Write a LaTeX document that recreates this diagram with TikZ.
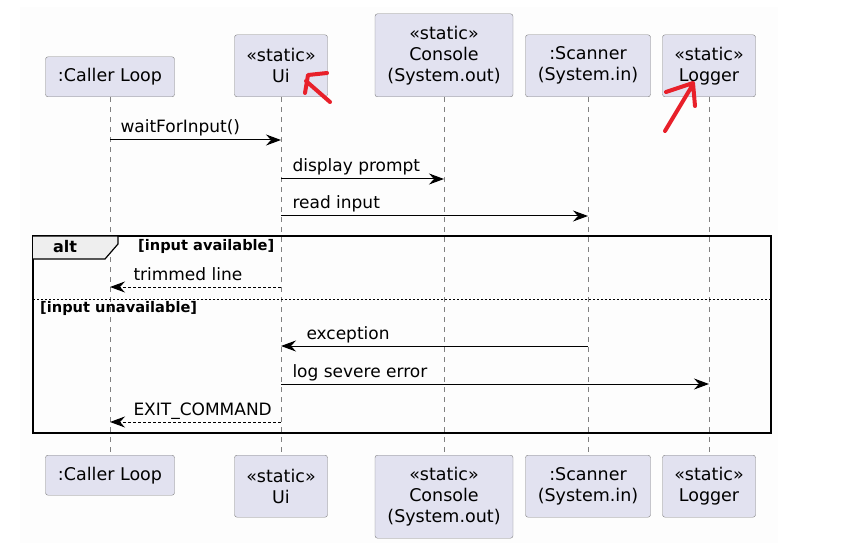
\documentclass[tikz,border=0pt]{standalone}
\usepackage{fontspec}
\setmainfont{DejaVu Sans}
\usetikzlibrary{arrows.meta}

\definecolor{partfill}{HTML}{E2E2F0}
\definecolor{partline}{HTML}{808080}
\definecolor{tabfill}{HTML}{EEEEEE}
\definecolor{pagebg}{HTML}{FDFDFD}
\definecolor{inkred}{HTML}{E8202A}

\begin{document}
\begin{tikzpicture}[x=1pt, y=-1pt,
    participant/.style={draw=partline, fill=partfill, rounded corners=2.5pt, align=center,
        inner sep=0pt, font=\fontsize{17.5}{21}\selectfont},
    lifeline/.style={draw=gray, line width=0.9pt, dash pattern=on 5pt off 5pt},
    msg/.style={line width=1pt, -{Stealth[length=15pt, width=11pt, inset=5pt]}},
    reply/.style={msg, dash pattern=on 3pt off 2pt},
    msglabel/.style={anchor=base west, inner sep=0pt, yshift=7pt, font=\fontsize{17}{20}\selectfont},
    guard/.style={anchor=west, inner sep=0pt, font=\bfseries\fontsize{14.6}{17}\selectfont}]

    % 画布
    \useasboundingbox (0,0) rectangle (850,553);
    \fill[pagebg] (20,7) rectangle (778,543);

    % 参与者（上）
    \node[participant, anchor=south, minimum width=129pt, minimum height=40pt] (callerTop) at (110,97) {:Caller Loop};
    \node[participant, anchor=south, minimum width=93pt, minimum height=62pt] (uiTop) at (281,97) {«static»\\Ui};
    \node[participant, anchor=south, minimum width=138pt, minimum height=83pt] (consoleTop) at (444,97) {«static»\\Console\\(System.out)};
    \node[participant, anchor=south, minimum width=125pt, minimum height=62pt] (scannerTop) at (588,97) {:Scanner\\(System.in)};
    \node[participant, anchor=south, minimum width=93pt, minimum height=62pt] (loggerTop) at (709,97) {«static»\\Logger};

    % 参与者（下）
    \node[participant, anchor=north, minimum width=129pt, minimum height=40pt] (callerBot) at (110,455) {:Caller Loop};
    \node[participant, anchor=north, minimum width=93pt, minimum height=62pt] (uiBot) at (281,455) {«static»\\Ui};
    \node[participant, anchor=north, minimum width=138pt, minimum height=83pt] (consoleBot) at (444,455) {«static»\\Console\\(System.out)};
    \node[participant, anchor=north, minimum width=125pt, minimum height=62pt] (scannerBot) at (588,455) {:Scanner\\(System.in)};
    \node[participant, anchor=north, minimum width=93pt, minimum height=62pt] (loggerBot) at (709,455) {«static»\\Logger};

    % 生命线
    \draw[lifeline] (callerTop) -- (callerBot);
    \draw[lifeline] (uiTop) -- (uiBot);
    \draw[lifeline] (consoleTop) -- (consoleBot);
    \draw[lifeline] (scannerTop) -- (scannerBot);
    \draw[lifeline] (loggerTop) -- (loggerBot);

    % alt 框
    \draw[line width=2.4pt] (33,236) rectangle (771,433);
    \filldraw[fill=tabfill, line width=1.2pt] (33,236) -- (118,236) -- (118,244) -- (105,259) -- (33,259);
    \node[font=\bfseries\fontsize{16}{18}\selectfont, inner sep=0pt] (altTag) at (65,247) {alt};
    \node[guard] (guardA) at (138,246) {[input available]};
    \draw[line width=1pt, dash pattern=on 2pt off 2pt] (33,299) -- (771,299);
    \node[guard] (guardB) at (40,308) {[input unavailable]};

    % 消息
    \draw[msg] (callerTop |- 0,140) -- (uiTop |- 0,140)
        node[msglabel, pos=0, xshift=10pt] {waitForInput()};
    \draw[msg] (uiTop |- 0,179) -- (consoleTop |- 0,179)
        node[msglabel, pos=0, xshift=11pt] {display prompt};
    \draw[msg] (uiTop |- 0,216) -- (scannerTop |- 0,216)
        node[msglabel, pos=0, xshift=11pt] {read input};
    \draw[reply] (uiTop |- 0,287) -- (callerTop |- 0,287)
        node[msglabel, pos=1, xshift=23pt] {trimmed line};
    \draw[msg] (scannerTop |- 0,346) -- (uiTop |- 0,346)
        node[msglabel, pos=1, xshift=25pt] {exception};
    \draw[msg] (uiTop |- 0,384) -- (loggerTop |- 0,384)
        node[msglabel, pos=0, xshift=11pt] {log severe error};
    \draw[reply] (uiTop |- 0,422) -- (callerTop |- 0,422)
        node[msglabel, pos=1, xshift=23pt] {EXIT\_COMMAND};

    % 手写红色箭头
    \draw[inkred, line width=4pt, line cap=round, line join=round]
        (330,102) -- (306,81) (305,93) -- (308,75) -- (327,73);
    \draw[inkred, line width=4pt, line cap=round, line join=round]
        (665,131) -- (692,86) (666,92) -- (693,83) -- (695,106);
\end{tikzpicture}
\end{document}
